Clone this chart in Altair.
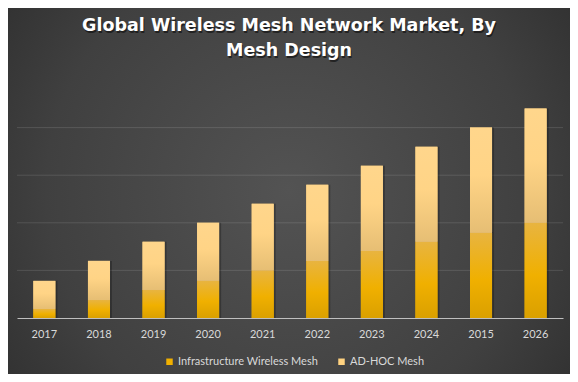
import altair as alt
import pandas as pd

years = ["2017", "2018", "2019", "2020", "2021", "2022", "2023", "2024", "2015", "2026"]
infra = [0.19, 0.38, 0.59, 0.78, 1.00, 1.20, 1.41, 1.60, 1.79, 2.00]
total = [0.78, 1.20, 1.60, 2.00, 2.40, 2.80, 3.20, 3.60, 4.00, 4.40]
adhoc = [round(t - i, 2) for t, i in zip(total, infra)]
series = ["Infrastructure Wireless Mesh", "AD-HOC Mesh"]
flat_colors = ["#f0b000", "#ffd280"]
grid_values = [1, 2, 3, 4]
title_text = "Global Wireless Mesh Network Market, By\nMesh Design"

wide = pd.DataFrame({"year": years, "infra": infra, "total": total, "adhoc": adhoc})
long = pd.DataFrame({
    "year": years * 2,
    "series": [series[0]] * len(years) + [series[1]] * len(years),
    "value": infra + adhoc,
    "order": [0] * len(years) + [1] * len(years),
})

W, H = 546, 238
xenc = alt.X("year:N", sort=years, title=None,
             scale=alt.Scale(paddingInner=0.597, paddingOuter=0.3),
             axis=alt.Axis(labelAngle=0, ticks=False, domainColor="#bfbfbf", domainWidth=1,
                           labelColor="#d9d9d9", labelFont="Lato", labelFontSize=11,
                           labelPadding=10, grid=False, zindex=1))
yscale = alt.Scale(domain=[0, 5], nice=False)

bg = alt.Chart(pd.DataFrame({"k": [0]})).mark_rect(
    color=alt.Gradient(gradient="radial", x1=0.5, y1=0.5, r1=0, x2=0.5, y2=0.5, r2=0.72,
                       stops=[alt.GradientStop(color="#535353", offset=0),
                              alt.GradientStop(color="#404040", offset=0.6),
                              alt.GradientStop(color="#292929", offset=1)])
).encode(x=alt.value(-9), x2=alt.value(W + 7), y=alt.value(-72), y2=alt.value(H + 56))

tdf = pd.DataFrame({"t": [title_text]})
tstyle = dict(lineBreak="\n", lineHeight=25, font="DejaVu Sans", fontSize=17.5,
              fontWeight="bold", align="center", baseline="alphabetic")
title_shadow = alt.Chart(tdf).mark_text(color="#000000", opacity=0.5, dx=1, dy=1.5, **tstyle
).encode(text="t:N", x=alt.value(272), y=alt.value(-49))
title_main = alt.Chart(tdf).mark_text(color="#ffffff", **tstyle
).encode(text="t:N", x=alt.value(272), y=alt.value(-49))

grid = alt.Chart(pd.DataFrame({"g": grid_values})).mark_rule(
    color="#ffffff", opacity=0.12, strokeWidth=1
).encode(y=alt.Y("g:Q", scale=yscale, axis=None), x=alt.value(0), x2=alt.value(W))

base = alt.Chart(long).mark_bar().encode(
    x=xenc,
    y=alt.Y("value:Q", stack="zero", scale=yscale, title=None, axis=None),
    color=alt.Color("series:N", sort=series,
                    scale=alt.Scale(domain=series, range=flat_colors),
                    legend=alt.Legend(title=None, orient="none", direction="horizontal",
                                      legendX=147, legendY=276, padding=0, symbolType="square",
                                      symbolSize=42, symbolStrokeWidth=0,
                                      labelColor="#d9d9d9", labelFont="Lato",
                                      labelFontSize=11, labelOffset=3, columnPadding=18)),
    order=alt.Order("order:Q"),
)

shadow = alt.Chart(wide).mark_bar(color="#000000", opacity=0.25, xOffset=2).encode(
    x=xenc, y=alt.Y("total:Q", scale=yscale, axis=None), y2=alt.Y2(datum=0))

infra_grad = alt.Gradient(gradient="linear", x1=0, x2=0, y1=0, y2=1,
                          stops=[alt.GradientStop(color="#e8b440", offset=0),
                                 alt.GradientStop(color="#f0b000", offset=0.55),
                                 alt.GradientStop(color="#daa000", offset=1)])
adhoc_grad = alt.Gradient(gradient="linear", x1=0, x2=0, y1=0, y2=1,
                          stops=[alt.GradientStop(color="#ffd68c", offset=0),
                                 alt.GradientStop(color="#ffd486", offset=0.45),
                                 alt.GradientStop(color="#e6be74", offset=1)])

infra_bar = alt.Chart(wide).mark_bar(color=infra_grad).encode(
    x=xenc, y=alt.Y("infra:Q", scale=yscale, axis=None), y2=alt.Y2(datum=0))
adhoc_bar = alt.Chart(wide).mark_bar(color=adhoc_grad).encode(
    x=xenc, y=alt.Y("total:Q", scale=yscale, axis=None), y2=alt.Y2("infra:Q"))

chart = alt.layer(bg, title_shadow, title_main, grid, shadow, base, infra_bar, adhoc_bar).properties(
    width=W, height=H,
    autosize=alt.AutoSizeParams(type="none"),
    padding={"left": 9, "top": 72, "right": 7, "bottom": 56},
    background="#333333",
).configure_view(stroke=None)

chart.save("out.html", embed_options={"renderer": "svg", "actions": False})
